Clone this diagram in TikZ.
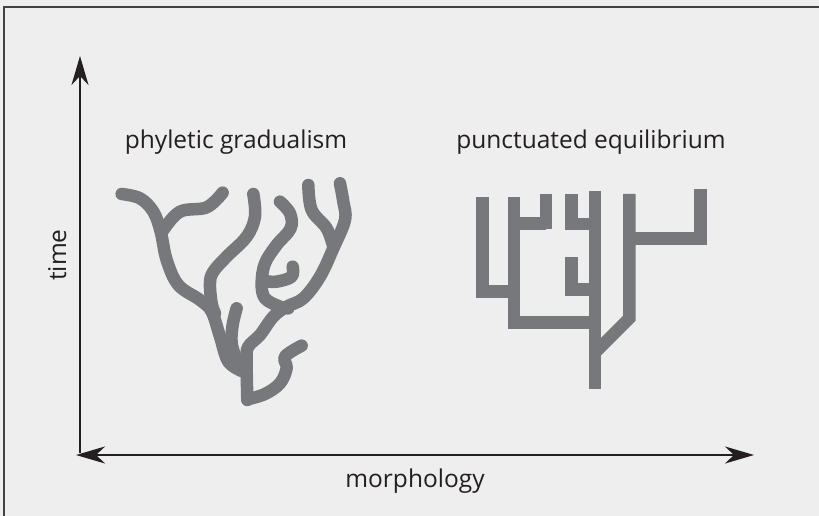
\documentclass[tikz,border=0pt]{standalone}
\usepackage{fontspec}
\setmainfont{Open Sans}
\usetikzlibrary{arrows.meta}
\definecolor{bgc}{HTML}{EEEEEE}
\definecolor{treec}{HTML}{77787B}
\definecolor{axc}{HTML}{231F20}
\tikzset{
  axis/.style={line width=2.3pt, draw=axc, -{Stealth[length=29pt,width=17pt,inset=9pt]}},
  axisboth/.style={line width=2.3pt, draw=axc, {Stealth[length=29pt,width=17pt,inset=9pt]}-{Stealth[length=29pt,width=17pt,inset=9pt]}},
  lbl/.style={font=\fontsize{24.5}{28}\selectfont, text=axc, inner sep=0pt},
  curvy/.style={draw=treec, line width=12.5pt, line cap=round, line join=round},
  squary/.style={draw=treec, line width=12.5pt, line cap=butt, line join=miter},
  frame/.style={draw=axc!85, line width=2pt}
}
\begin{document}
\begin{tikzpicture}[x=1pt,y=-1pt]
\fill[bgc] (0,0) rectangle (819,516);
\useasboundingbox (0,0) rectangle (819,516);
\draw[frame] (4,516) -- (4,7) -- (819,7);
% axes
\coordinate (o) at (80,453);
\coordinate (ytip) at (80,56);
\coordinate (xl) at (76,455);
\coordinate (xr) at (754,455);
\draw[axis] (o) -- (ytip);
\draw[axisboth] (xl) -- (xr);
% labels
\node[lbl, anchor=base] (pg) at (236,149) {phyletic gradualism};
\node[lbl, anchor=base] (pe) at (591,149) {punctuated equilibrium};
\node[lbl, anchor=base] (mo) at (415,487) {morphology};
\node[lbl, anchor=base, rotate=90] (ti) at (66,255) {time};
% phyletic gradualism tree
\begin{scope}[shift={(100,170)}, x=0.3333pt, y=-0.3333pt]
\draw[curvy] plot[smooth, tension=0.6] coordinates {(65,72) (120,85) (160,125) (182,185) (200,270) (235,345) (300,390) (335,425) (360,500) (385,575) (430,605)};
\draw[curvy] plot[smooth, tension=0.6] coordinates {(190,180) (240,125) (320,112) (368,68)};
\draw[curvy] plot[smooth, tension=0.6] coordinates {(460,72) (465,140) (440,200) (380,260) (340,305) (330,340) (335,400) (345,430)};
\draw[curvy] plot[smooth, tension=0.6] coordinates {(410,415) (398,465) (395,520) (410,570)};
\draw[curvy] plot[smooth, tension=0.6] coordinates {(720,40) (730,95) (735,150) (700,235) (660,320) (610,385) (560,410) (520,440) (480,495) (445,530) (440,570) (442,690)};
\draw[curvy] plot[smooth, tension=0.6] coordinates {(625,45) (635,120) (680,175) (700,230)};
\draw[curvy] plot[smooth, tension=0.6] coordinates {(540,95) (570,130) (572,175) (530,225) (495,280) (485,340) (495,385) (540,410) (565,415)};
\draw[curvy] plot[smooth, tension=0.6] coordinates {(578,290) (575,320) (530,335) (495,333)};
\draw[curvy] plot[smooth, tension=0.6] coordinates {(442,688) (495,672) (540,640) (560,595) (555,560) (605,527)};
\end{scope}
% punctuated equilibrium tree
\begin{scope}[shift={(460,170)}, x=0.3333pt, y=-0.3333pt]
\draw[squary] (68,82) -- (68,365) -- (162,365);
\draw[squary] (162,82) -- (162,458) -- (405,458);
\draw[squary] (162,160) -- (258,160);
\draw[squary] (258,72) -- (258,178);
\draw[squary] (335,72) -- (335,162) -- (405,162);
\draw[squary] (405,62) -- (405,658);
\draw[squary] (335,262) -- (335,358) -- (405,358);
\draw[squary] (408,545) -- (508,445) -- (508,72);
\draw[squary] (508,205) -- (722,205) -- (722,58);
\end{scope}
\end{tikzpicture}
\end{document}
